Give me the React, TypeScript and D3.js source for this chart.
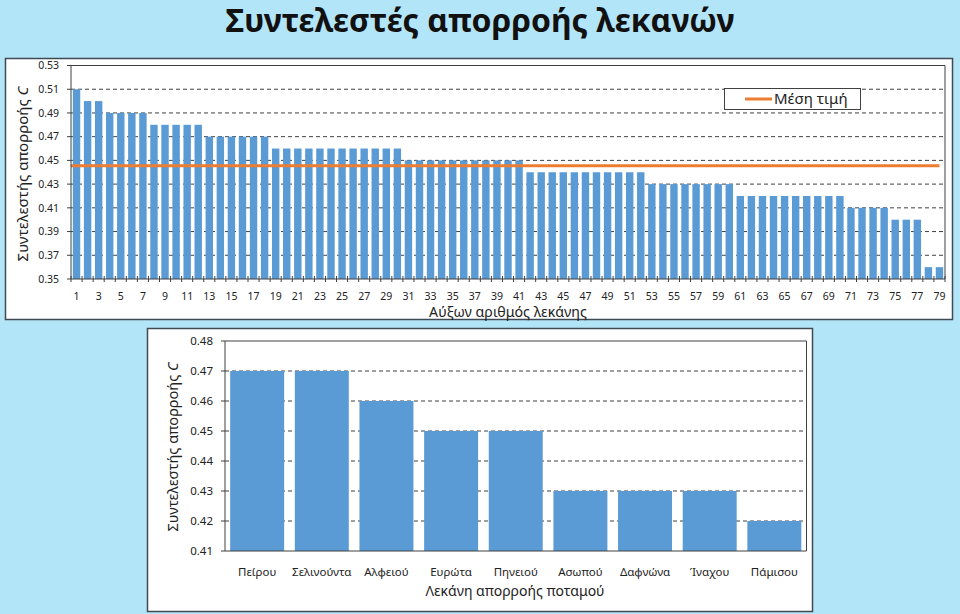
import React from "react";
import * as d3 from "d3";

const topValues: number[] = [
  0.51,
  0.5, 0.5,
  0.49, 0.49, 0.49, 0.49,
  0.48, 0.48, 0.48, 0.48, 0.48,
  0.47, 0.47, 0.47, 0.47, 0.47, 0.47,
  0.46, 0.46, 0.46, 0.46, 0.46, 0.46, 0.46, 0.46, 0.46, 0.46, 0.46, 0.46,
  0.45, 0.45, 0.45, 0.45, 0.45, 0.45, 0.45, 0.45, 0.45, 0.45, 0.45,
  0.44, 0.44, 0.44, 0.44, 0.44, 0.44, 0.44, 0.44, 0.44, 0.44, 0.44,
  0.43, 0.43, 0.43, 0.43, 0.43, 0.43, 0.43, 0.43,
  0.42, 0.42, 0.42, 0.42, 0.42, 0.42, 0.42, 0.42, 0.42, 0.42,
  0.41, 0.41, 0.41, 0.41,
  0.4, 0.4, 0.4,
  0.36, 0.36,
];
const topCategories: number[] = topValues.map((_, i) => i + 1);
const topYTicks: number[] = [0.35, 0.37, 0.39, 0.41, 0.43, 0.45, 0.47, 0.49, 0.51, 0.53];

const basinNames: string[] = [
  "Πείρου", "Σελινούντα", "Αλφειού", "Ευρώτα", "Πηνειού",
  "Ασωπού", "Δαφνώνα", "Ίναχου", "Πάμισου",
];
const basinValues: number[] = [0.47, 0.47, 0.46, 0.45, 0.45, 0.43, 0.43, 0.43, 0.42];
const bottomYTicks: number[] = [0.41, 0.42, 0.43, 0.44, 0.45, 0.46, 0.47, 0.48];

const FONT = "'Noto Sans', 'Open Sans', sans-serif";
const BAR = "#5b9bd5";
const ORANGE = "#ed7d31";
const BG = "#b3e5f8";
const BORDER = "#3f4a52";
const GRID = "#404040";

export default function App() {
  // top chart
  const tL = 71, tR = 945, tT = 65.5, tB = 279;
  const tx = d3.scaleBand<number>().domain(topCategories).range([tL, tR]).paddingInner(0.33).paddingOuter(0.165);
  const ty = d3.scaleLinear().domain([0.35, 0.53]).range([tB, tT]);
  const step = tx.step();
  const mean = d3.mean(topValues) as number;
  const meanLine = d3.line<number>()
    .x((c, i) => (i === 0 ? tx.range()[0] : (tx(c) as number) + tx.bandwidth() / 2))
    .y(() => ty(mean));
  const meanPath = meanLine([topCategories[0], topCategories[topCategories.length - 1]]) || "";

  // bottom chart
  const bL = 225, bR = 806.5, bT = 341, bB = 551;
  const bx = d3.scaleBand<string>().domain(basinNames).range([bL, bR]).paddingInner(0.165).paddingOuter(0.08);
  const by = d3.scaleLinear().domain([0.41, 0.48]).range([bB, bT]);

  return (
    <svg width={960} height={614} style={{ position: "absolute", left: 0, top: 0, display: "block" }} fontFamily={FONT}>
      <rect x={0} y={0} width={960} height={614} fill={BG} />
      <text x={480} y={32} textAnchor="middle" fontSize={32} fontWeight="bold" fill="#111">
        Συντελεστές απορροής λεκανών
      </text>

      {/* Top chart */}
      <rect x={5.5} y={58.5} width={947} height={261} fill="#fff" stroke={BORDER} strokeWidth={1.5} />
      {topYTicks.slice(1, -1).map((t) => (
        <line key={"tg" + t} x1={tL} x2={tR} y1={ty(t)} y2={ty(t)} stroke={GRID} strokeWidth={1} strokeDasharray="4,3" />
      ))}
      {topValues.map((v, i) => (
        <rect key={"tb" + i} x={tx(topCategories[i]) as number} y={ty(v)} width={tx.bandwidth()} height={tB - ty(v)} fill={BAR} />
      ))}
      <path d={meanPath} stroke={ORANGE} strokeWidth={3} fill="none" />
      <line x1={tL} x2={tR} y1={tT} y2={tT} stroke={GRID} strokeWidth={1} />
      <line x1={tR} x2={tR} y1={tT} y2={tB} stroke={GRID} strokeWidth={1} />
      <line x1={tL} x2={tL} y1={tT} y2={tB} stroke={GRID} strokeWidth={1} />
      <line x1={tL} x2={tR} y1={tB} y2={tB} stroke={GRID} strokeWidth={1} />
      {topYTicks.map((t) => (
        <g key={"ty" + t}>
          <line x1={tL - 4} x2={tL} y1={ty(t)} y2={ty(t)} stroke={GRID} />
          <text x={tL - 12} y={ty(t)} dy="0.35em" textAnchor="end" fontSize={10.5} fill="#222">{t.toFixed(2)}</text>
        </g>
      ))}
      {d3.range(topCategories.length + 1).map((i) => (
        <line key={"tt" + i} x1={tL + i * step} x2={tL + i * step} y1={tB - 3} y2={tB + 3} stroke={GRID} />
      ))}
      {topCategories.filter((c) => c % 2 === 1).map((c) => (
        <text key={"tx" + c} x={(tx(c) as number) + tx.bandwidth() / 2} y={299.5} textAnchor="middle" fontSize={10.5} fill="#222">{c}</text>
      ))}
      <text x={508} y={317} textAnchor="middle" fontSize={14.2} fill="#222">Αύξων αριθμός λεκάνης</text>
      <text transform={`translate(28,174) rotate(-90)`} textAnchor="middle" fontSize={15} fill="#222">
        Συντελεστής απορροής <tspan fontStyle="italic">C</tspan>
      </text>
      {/* legend */}
      <rect x={724.5} y={88.5} width={136} height={21} fill="#fff" stroke={GRID} strokeWidth={1} />
      <line x1={745} x2={772} y1={99} y2={99} stroke={ORANGE} strokeWidth={3} />
      <text x={774} y={99} dy="0.35em" fontSize={15} fill="#222">Μέση τιμή</text>

      {/* Bottom chart */}
      <rect x={147.5} y={328.5} width={665} height={283} fill="#fff" stroke={BORDER} strokeWidth={1.5} />
      {bottomYTicks.slice(1, -1).map((t) => (
        <line key={"bg" + t} x1={bL} x2={bR} y1={by(t)} y2={by(t)} stroke={GRID} strokeWidth={1} strokeDasharray="4,3" />
      ))}
      {basinValues.map((v, i) => (
        <rect key={"bb" + i} x={bx(basinNames[i]) as number} y={by(v)} width={bx.bandwidth()} height={bB - by(v)} fill={BAR} />
      ))}
      <line x1={bL} x2={bR} y1={bT} y2={bT} stroke={GRID} />
      <line x1={bR} x2={bR} y1={bT} y2={bB} stroke={GRID} />
      <line x1={bL} x2={bL} y1={bT} y2={bB} stroke={GRID} />
      <line x1={bL} x2={bR} y1={bB} y2={bB} stroke={GRID} />
      {bottomYTicks.map((t) => (
        <g key={"by" + t}>
          <line x1={bL - 4} x2={bL} y1={by(t)} y2={by(t)} stroke={GRID} />
          <text x={bL - 12} y={by(t)} dy="0.35em" textAnchor="end" fontSize={11.5} fill="#222">{t.toFixed(2)}</text>
        </g>
      ))}
      {basinNames.map((n) => (
        <text key={"bx" + n} x={(bx(n) as number) + bx.bandwidth() / 2} y={576} textAnchor="middle" fontSize={11.5} fill="#222">{n}</text>
      ))}
      <text x={515} y={596} textAnchor="middle" fontSize={14} fill="#222">Λεκάνη απορροής ποταμού</text>
      <text transform={`translate(178,447) rotate(-90)`} textAnchor="middle" fontSize={14.5} fill="#222">
        Συντελεστής απορροής <tspan fontStyle="italic">C</tspan>
      </text>
    </svg>
  );
}
